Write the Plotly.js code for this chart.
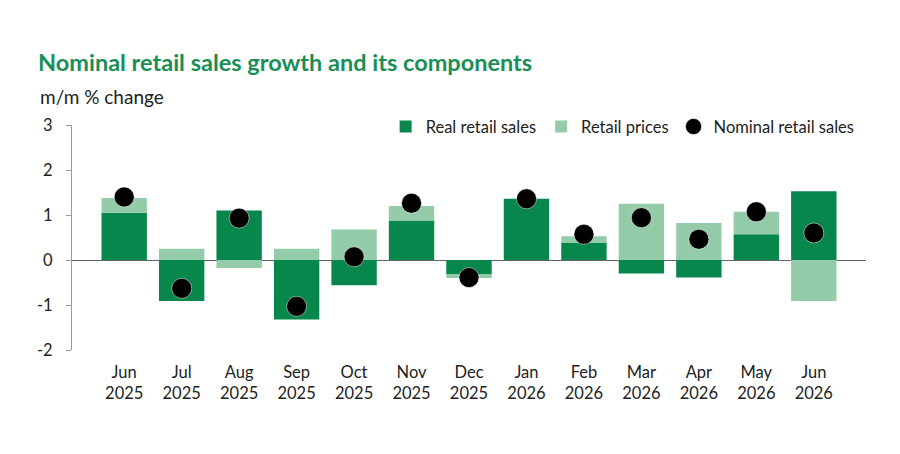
<!DOCTYPE html>
<html>
<head>
<meta charset="utf-8">
<script src="https://cdn.plot.ly/plotly-3.0.1.min.js"></script>
<style>html,body{margin:0;padding:0;background:#fff;}#chart{width:900px;height:454px;}</style>
</head>
<body>
<div id="chart"></div>
<script>
var months = ["Jun<br>2025","Jul<br>2025","Aug<br>2025","Sep<br>2025","Oct<br>2025","Nov<br>2025","Dec<br>2025","Jan<br>2026","Feb<br>2026","Mar<br>2026","Apr<br>2026","May<br>2026","Jun<br>2026"];
var realSales = [1.05,-0.91,1.10,-1.32,-0.56,0.88,-0.32,1.36,0.38,-0.30,-0.39,0.57,1.53];
var retailPrices = [0.33,0.25,-0.18,0.25,0.68,0.32,-0.08,0.0,0.15,1.25,0.82,0.50,-0.91];
var nominalSales = [1.40,-0.63,0.93,-1.03,0.07,1.26,-0.39,1.36,0.57,0.94,0.46,1.07,0.60];
var yTicks = [-2,-1,0,1,2,3];
var yTickText = ["-2","-1","0","1","2","3"];

var fontFam = "Lato, 'Open Sans', sans-serif";
var traces = [
  {type:"bar", name:"Real retail sales", x:months, y:realSales, marker:{color:"#07874c"}},
  {type:"bar", name:"Retail prices", x:months, y:retailPrices, marker:{color:"#94cba9"}},
  {type:"scatter", mode:"markers", name:"Nominal retail sales", x:months, y:nominalSales,
   marker:{color:"#000", size:20, line:{color:"#fff", width:0.5}}}
];
var layout = {
  width:900, height:454,
  margin:{l:72, r:34, t:125, b:104},
  paper_bgcolor:"#fff", plot_bgcolor:"#fff",
  barmode:"relative", bargap:0.21,
  font:{family:fontFam, size:16, color:"#222"},
  title:{text:"<b>Nominal retail sales growth and its components</b>", font:{family:fontFam, size:23.5, color:"#1a8f55"},
         xref:"container", yref:"container", x:38/900, xanchor:"left", y:1-63/454, yanchor:"middle"},
  xaxis:{showline:false, ticks:"", showgrid:false, zeroline:false, tickfont:{size:16.5}, ticklabelstandoff:10, fixedrange:true},
  yaxis:{range:[-2,3], tickvals:yTicks, ticktext:yTickText, showgrid:false, showline:true, linecolor:"#999", linewidth:1,
         ticks:"outside", ticklen:5, tickcolor:"#999", zeroline:true, zerolinecolor:"#666", zerolinewidth:1,
         tickfont:{size:16.5}, ticklabelstandoff:10},
  showlegend:true,
  legend:{orientation:"h", x:0.395, xanchor:"left", y:1.07, yanchor:"top", font:{size:16.5}, itemwidth:30, traceorder:"normal", bgcolor:"rgba(0,0,0,0)"},
  annotations:[{text:"m/m % change", xref:"paper", yref:"paper", x:-0.043, xanchor:"left", y:(350-96)/225, yanchor:"middle", showarrow:false, font:{size:19, color:"#222"}}]
};
Plotly.newPlot("chart", traces, layout, {displayModeBar:false, staticPlot:true});
</script>
</body>
</html>
